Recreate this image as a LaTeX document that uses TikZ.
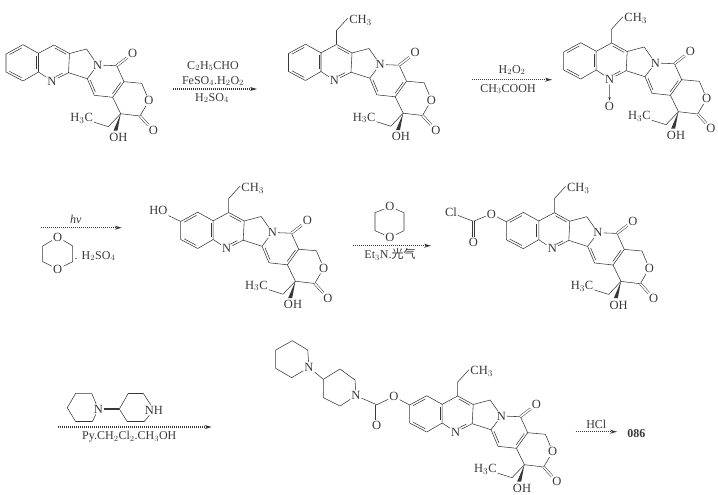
\documentclass[tikz,border=0pt]{standalone}
\usepackage{fontspec}
\setmainfont{Liberation Serif}
\newfontfamily\cjk{Noto Sans CJK SC}
\usetikzlibrary{calc,arrows.meta}
\definecolor{inkgray}{gray}{0.22}
\tikzset{
	bondline/.style={line width=0.55pt, line join=round},
	boldbond/.style={line width=1.5pt},
	cobond/.style={line width=0.5pt, double, double distance=1.6pt},
	atom/.style={inner sep=1pt, font=\fontsize{12.5}{12.5}\selectfont},
	reagent/.style={inner sep=0pt, font=\fontsize{12}{12}\selectfont},
	rxnarrow/.style={line width=1.1pt, dash pattern=on 1.2pt off 0.8pt, -{Stealth[length=7pt,width=4pt]}}
}
% second stroke of a ring double bond
\newcommand{\dbond}[3][0.14]{
	\draw[bondline] ($(#2)!#1!(#3)!2.2pt!-90:(#3)$) -- ($(#3)!#1!(#2)!2.2pt!90:(#2)$);
}
% lactone skeleton, #1 = name prefix, (#2,#3) = shift
\newcommand{\coreskel}[3]{
	\begin{scope}[shift={(#2,#3)}]
		\coordinate (#1b1) at (6,54);
		\coordinate (#1b2) at (23,44.7);
		\coordinate (#1b3) at (38.5,53.3);
		\coordinate (#1b4) at (38.5,72);
		\coordinate (#1b5) at (23,81);
		\coordinate (#1b6) at (6,72);
		\coordinate (#1m1) at (54,45);
		\coordinate (#1m2) at (69.5,53.5);
		\coordinate (#1m3) at (68.5,72.7);
		\coordinate (#1f1) at (86.5,49);
		\coordinate (#1f2) at (87.3,78.7);
		\coordinate (#1l1) at (116.7,65.7);
		\coordinate (#1l2) at (124,81.7);
		\coordinate (#1l3) at (112.7,97.3);
		\coordinate (#1l4) at (94.3,95.3);
		\coordinate (#1t1) at (141.7,83.3);
		\coordinate (#1t2) at (140,116);
		\coordinate (#1q) at (120.7,113.7);
		\coordinate (#1e1) at (108.3,126.7);
		\coordinate (#1wt) at (115.5,130.5);
		\node[atom] (#1na) at (52,81) {N};
		\node[atom] (#1nb) at (97.7,65) {N};
		\node[atom] (#1oa) at (132.7,53.3) {O};
		\node[atom] (#1ob) at (149,100.7) {O};
		\node[atom] (#1oc) at (153.3,130.7) {O};
		\node[atom] (#1hc) at (81.7,118.3) {H$_3$C};
		\node[atom] (#1oh) at (118.3,137.3) {OH};
		% rings
		\draw[bondline] (#1b1) -- (#1b2) -- (#1b3) -- (#1b4) -- (#1b5) -- (#1b6) -- (#1b1);
		\draw[bondline] (#1b3) -- (#1m1) -- (#1m2) -- (#1m3) -- (#1na) -- (#1b4);
		\draw[bondline] (#1m2) -- (#1f1) -- (#1nb) -- (#1f2) -- (#1m3);
		\draw[bondline] (#1nb) -- (#1l1) -- (#1l2) -- (#1l3) -- (#1l4) -- (#1f2);
		\draw[bondline] (#1l2) -- (#1t1) -- (#1ob) -- (#1t2) -- (#1q) -- (#1l3);
		% double bonds
		\dbond{#1b1}{#1b2}
		\dbond{#1b3}{#1b4}
		\dbond{#1b5}{#1b6}
		\dbond{#1m1}{#1m2}
		\dbond[0.3]{#1m3}{#1na}
		\dbond{#1l2}{#1l3}
		\dbond{#1l4}{#1f2}
		% C=O and side chain
		\draw[cobond] (#1l1) -- (#1oa);
		\draw[cobond] (#1t2) -- (#1oc);
		\draw[bondline] (#1q) -- (#1e1) -- (#1hc);
		\fill (#1q) -- ($(#1wt)+(2,0)$) -- ($(#1wt)+(-2,0)$) -- cycle;
	\end{scope}
}
% ethyl on the middle ring
\newcommand{\ethylarm}[3]{
	\begin{scope}[shift={(#2,#3)}]
		\coordinate (#1e2) at (54,31);
		\coordinate (#1e3) at (65,19);
		\node[atom] (#1me) at (78,20.5) {CH$_3$};
		\draw[bondline] (#1m1) -- (#1e2) -- (#1e3);
		\draw[bondline] (#1e3) -- (#1me);
	\end{scope}
}
\begin{document}
\begin{tikzpicture}[x=1pt, y=-1pt, color=inkgray]
	\useasboundingbox (0,0) rectangle (718,495);
	% row 1
	\coreskel{pa}{0}{0}
	\coreskel{pb}{282.5}{-0.5}
	\ethylarm{pb}{282.5}{-0.5}
	\coreskel{pc}{557.7}{-2}
	\ethylarm{pc}{557.7}{-2}
	% N-oxide
	\node[atom] (pcox) at (609.5,106) {O};
	\draw[bondline, -{Stealth[length=3.5pt,width=2.5pt]}] (pcna) -- (pcox);
	% reagents of step 1
	\coordinate (sa) at (173,89);
	\coordinate (ea) at (257,89);
	\draw[rxnarrow] (sa) -- (ea);
	\node[reagent] (ra1) at (213,66) {C$_2$H$_5$CHO};
	\node[reagent] (ra2) at (213,81) {FeSO$_4$.H$_2$O$_2$};
	\node[reagent] (ra3) at (212,98) {H$_2$SO$_4$};
	% reagents of step 2
	\coordinate (sb) at (472,79.7);
	\coordinate (eb) at (552,79.7);
	\draw[rxnarrow] (sb) -- (eb);
	\node[reagent] (rb1) at (512,70) {H$_2$O$_2$};
	\node[reagent] (rb2) at (508,89) {CH$_3$COOH};
	% row 2
	\coreskel{pd}{174.7}{167.5}
	\ethylarm{pd}{174.7}{167.5}
	\node[atom] (pdho) at (158.3,210.7) {HO};
	\draw[bondline] (pdho) -- (pdb1);
	\coreskel{pe}{500.3}{167.7}
	\ethylarm{pe}{500.3}{167.7}
	\node[atom] (peo) at (491.3,214) {O};
	\node[atom] (pecl) at (451,212.7) {Cl};
	\node[atom] (peox) at (473.3,242.3) {O};
	\coordinate (pec) at (473.3,221.3);
	\draw[bondline] (pecl) -- (pec) -- (peo) -- (peb1);
	\draw[cobond] (pec) -- (peox);
	% step 3 with dioxane
	\coordinate (sc) at (41,227.7);
	\coordinate (ec) at (121.7,227.7);
	\draw[rxnarrow] (sc) -- (ec);
	\node[reagent] (rc1) at (75.7,219.7) {\textit{hv}};
	\node[atom] (dxa1) at (57.7,237) {O};
	\node[atom] (dxa2) at (57.7,269) {O};
	\coordinate (dxa3) at (42.7,246);
	\coordinate (dxa4) at (42.7,261.7);
	\coordinate (dxa5) at (72.7,246);
	\coordinate (dxa6) at (72.7,261.7);
	\draw[bondline] (dxa1) -- (dxa3) -- (dxa4) -- (dxa2) -- (dxa6) -- (dxa5) -- (dxa1);
	\node[reagent] (rc2) at (95,256) {. H$_2$SO$_4$};
	% step 4 with dioxane
	\coordinate (sd) at (353,245.7);
	\coordinate (ed) at (431,245.7);
	\draw[rxnarrow] (sd) -- (ed);
	\node[atom] (dxb1) at (390,206.7) {O};
	\node[atom] (dxb2) at (390,237.3) {O};
	\coordinate (dxb3) at (375,212.7);
	\coordinate (dxb4) at (375,230.7);
	\coordinate (dxb5) at (404,212.7);
	\coordinate (dxb6) at (404,230.7);
	\draw[bondline] (dxb1) -- (dxb3) -- (dxb4) -- (dxb2) -- (dxb6) -- (dxb5) -- (dxb1);
	\node[reagent] (rd1) at (390,254.3) {Et$_3$N.{\cjk 光气}};
	% row 3
	\coreskel{pf}{403.7}{351}
	\ethylarm{pf}{403.7}{351}
	\node[atom] (pfo) at (394,396.7) {O};
	\node[atom] (pfox) at (376.7,425) {O};
	\node[atom] (pfn1) at (356,395.7) {N};
	\node[atom] (pfn2) at (309,367.3) {N};
	\coordinate (pfc) at (376.7,404.7);
	\coordinate (pfr1) at (355,380);
	\coordinate (pfr2) at (340,369);
	\coordinate (pfr3) at (323.3,379.3);
	\coordinate (pfr4) at (323.3,397.7);
	\coordinate (pfr5) at (340,406);
	\coordinate (pfs1) at (307.7,350);
	\coordinate (pfs2) at (292.3,340.7);
	\coordinate (pfs3) at (275.7,350);
	\coordinate (pfs4) at (275.7,368.3);
	\coordinate (pfs5) at (291.7,377.7);
	\draw[bondline] (pfb1) -- (pfo) -- (pfc) -- (pfn1);
	\draw[cobond] (pfc) -- (pfox);
	\draw[bondline] (pfn1) -- (pfr1) -- (pfr2) -- (pfr3) -- (pfr4) -- (pfr5) -- (pfn1);
	\draw[bondline] (pfr3) -- (pfn2);
	\draw[bondline] (pfn2) -- (pfs1) -- (pfs2) -- (pfs3) -- (pfs4) -- (pfs5) -- (pfn2);
	% step 5 with bipiperidine
	\coordinate (se) at (58,427);
	\coordinate (ee) at (211.7,427);
	\draw[rxnarrow] (se) -- (ee);
	\node[atom] (bpn) at (98.3,409) {N};
	\node[atom] (bpnh) at (154,410) {NH};
	\coordinate (bpa1) at (91.7,393.3);
	\coordinate (bpa2) at (75.7,393.3);
	\coordinate (bpa3) at (67.3,407.7);
	\coordinate (bpa4) at (75.7,421.7);
	\coordinate (bpa5) at (92.3,421.7);
	\coordinate (bpb1) at (119.3,409);
	\coordinate (bpb2) at (128.3,393.3);
	\coordinate (bpb3) at (143.3,393.3);
	\coordinate (bpb4) at (144,421.7);
	\coordinate (bpb5) at (127.3,421.7);
	\draw[bondline] (bpn) -- (bpa1) -- (bpa2) -- (bpa3) -- (bpa4);
	\draw[bondline] (bpa5) -- (bpn);
	\draw[bondline] (bpb5) -- (bpb1) -- (bpb2);
	\draw[bondline] (bpb3) -- (bpnh) -- (bpb4);
	\draw[boldbond] (bpa4) -- (bpa5);
	\draw[boldbond] (bpn) -- (bpb1);
	\draw[boldbond] (bpb2) -- (bpb3);
	\draw[boldbond] (bpb4) -- (bpb5);
	\node[reagent] (re1) at (129.3,436.7) {Py.CH$_2$Cl$_2$.CH$_3$OH};
	% last step
	\coordinate (sf) at (575.7,431.7);
	\coordinate (ef) at (617,431.7);
	\draw[rxnarrow] (sf) -- (ef);
	\node[reagent] (rf1) at (596.3,424.3) {HCl};
	\node[reagent] (prod) at (636.3,433.3) {\textbf{086}};
\end{tikzpicture}
\end{document}
